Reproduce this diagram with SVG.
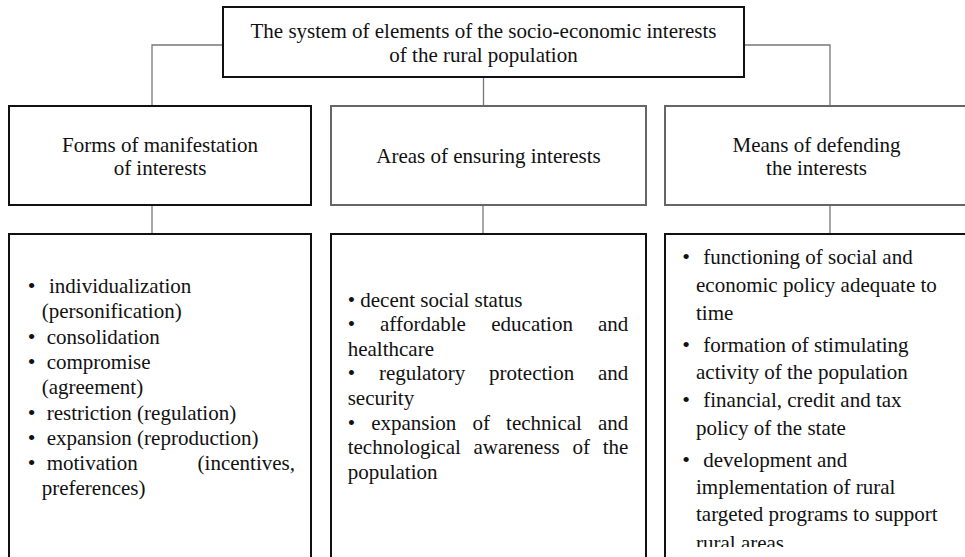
<svg xmlns="http://www.w3.org/2000/svg" width="965" height="557" viewBox="0 0 965 557">
<style>
  text { font-family: "Liberation Serif", "Times New Roman", serif; font-size: 21px; fill: #111; }
  .c { text-anchor: middle; }
  .e { text-anchor: end; }
  .b { font-size: 22px; }
  .box { fill: #fff; stroke: #111; stroke-width: 2; }
  .gbox { fill: #fff; stroke: #666; stroke-width: 2; }
  .conn { fill: none; stroke: #777; stroke-width: 1.3; }
</style>
<defs>
  <clipPath id="clipR"><rect x="660" y="230" width="310" height="317"/></clipPath>
</defs>
<rect width="965" height="557" fill="#fff"/>
<g id="connectors">
  <path class="conn" d="M223,45 H152 V106"/>
  <path class="conn" d="M744,45 H830 V106"/>
  <path class="conn" d="M483.5,77 V106"/>
  <path class="conn" d="M152,205 V234"/>
  <path class="conn" d="M483,205 V234"/>
  <path class="conn" d="M830,205 V234"/>
</g>
<g id="root">
  <rect class="box" x="223" y="7" width="521" height="70"/>
  <text class="c" x="483.5" y="38">The system of elements of the socio-economic interests</text>
  <text class="c" x="483.5" y="62">of the rural population</text>
</g>
<g id="forms">
  <rect class="box" x="9" y="106" width="302" height="99"/>
  <text class="c" x="160" y="152">Forms of manifestation</text>
  <text class="c" x="160" y="175">of interests</text>
</g>
<g id="areas">
  <rect class="gbox" x="331" y="106" width="315" height="99"/>
  <text class="c" x="488.5" y="163">Areas of ensuring interests</text>
</g>
<g id="means">
  <rect class="gbox" x="665" y="106" width="303" height="99"/>
  <text class="c" x="816.5" y="152">Means of defending</text>
  <text class="c" x="816.5" y="175">the interests</text>
</g>
<g id="forms-list">
  <rect class="box" x="9" y="234" width="302" height="340"/>
  <text class="c b" x="31.7" y="293">•</text><text x="49" y="293">individualization</text>
  <text x="41.7" y="318.3">(personification)</text>
  <text class="c b" x="31.7" y="343.6">•</text><text x="46.7" y="343.6">consolidation</text>
  <text class="c b" x="31.7" y="369">•</text><text x="46.7" y="369">compromise</text>
  <text x="41.7" y="394.2">(agreement)</text>
  <text class="c b" x="31.7" y="419.5">•</text><text x="46.7" y="419.5">restriction (regulation)</text>
  <text class="c b" x="31.7" y="444.8">•</text><text x="46.7" y="444.8">expansion (reproduction)</text>
  <text class="c b" x="31.7" y="470">•</text><text x="46.7" y="470">motivation</text><text class="e" x="295" y="470">(incentives,</text>
  <text x="41.7" y="495.4">preferences)</text>
</g>
<g id="areas-list">
  <rect class="box" x="331" y="234" width="315" height="340"/>
  <text x="347.7" y="306.5">• decent social status</text>
  <text x="347.7" y="331.1">•</text><text x="380" y="331.1">affordable</text><text x="491.3" y="331.1">education</text><text class="e" x="628.3" y="331.1">and</text>
  <text x="347.7" y="355.7">healthcare</text>
  <text x="347.7" y="380.3">•</text><text x="378.9" y="380.3">regulatory</text><text x="489" y="380.3">protection</text><text class="e" x="628.3" y="380.3">and</text>
  <text x="347.7" y="404.9">security</text>
  <text x="347.7" y="429.5">•</text><text x="371.2" y="429.5">expansion</text><text x="472.5" y="429.5">of</text><text x="506.1" y="429.5">technical</text><text class="e" x="628.3" y="429.5">and</text>
  <text x="347.7" y="454.1">technological</text><text x="473.5" y="454.1">awareness</text><text x="572.5" y="454.1">of</text><text class="e" x="628.3" y="454.1">the</text>
  <text x="347.7" y="478.7">population</text>
</g>
<g id="means-list">
  <rect class="box" x="665" y="234" width="303" height="340"/>
  <g clip-path="url(#clipR)">
    <text class="c b" x="686" y="264.3">•</text><text x="703.3" y="264.3">functioning of social and</text>
    <text x="696" y="292">economic policy adequate to</text>
    <text x="696" y="320">time</text>
    <text class="c b" x="686" y="351.5">•</text><text x="703.3" y="351.5">formation of stimulating</text>
    <text x="696" y="378.5">activity of the population</text>
    <text class="c b" x="686" y="407">•</text><text x="703.3" y="407">financial, credit and tax</text>
    <text x="696" y="435">policy of the state</text>
    <text class="c b" x="686" y="466.5">•</text><text x="703.3" y="466.5">development and</text>
    <text x="696" y="493.5">implementation of rural</text>
    <text x="696" y="521">targeted programs to support</text>
    <text x="696" y="550">rural areas</text>
  </g>
</g>
</svg>
